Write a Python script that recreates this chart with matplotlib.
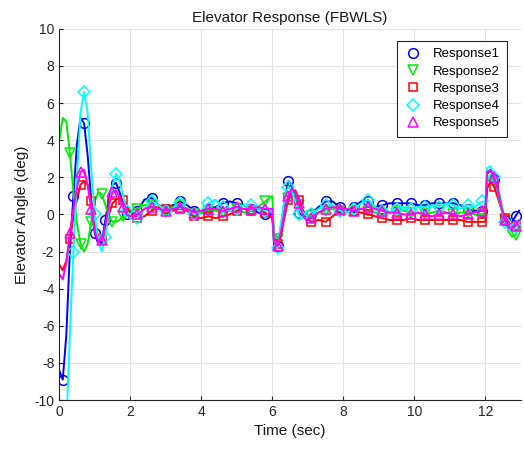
import matplotlib
matplotlib.use("Agg")
import matplotlib.pyplot as plt
from matplotlib.lines import Line2D
import numpy as np

plt.rcParams['font.family'] = ['Liberation Sans', 'DejaVu Sans']
plt.rcParams['axes.unicode_minus'] = False

# time samples (sec)
t = [0.0, 0.1, 0.2, 0.3, 0.4, 0.5, 0.6, 0.7, 0.8, 0.9,
     1.0, 1.1, 1.2, 1.3, 1.4, 1.5, 1.6, 1.7, 1.8, 1.9,
     2.0, 2.2, 2.4, 2.6, 2.8, 3.0, 3.2, 3.4, 3.6, 3.8,
     4.0, 4.2, 4.4, 4.6, 4.8, 5.0, 5.2, 5.4, 5.6, 5.8,
     6.0, 6.05, 6.15, 6.25, 6.35, 6.45, 6.55, 6.65, 6.75, 6.85,
     6.95, 7.1, 7.3, 7.5, 7.7, 7.9, 8.1, 8.3, 8.5, 8.7,
     8.9, 9.1, 9.3, 9.5, 9.7, 9.9, 10.1, 10.3, 10.5, 10.7,
     10.9, 11.1, 11.3, 11.5, 11.7, 11.9, 12.0, 12.05, 12.15, 12.25,
     12.35, 12.45, 12.55, 12.65, 12.75, 12.85, 12.95]

resp1 = [-8.4, -8.9, -6.5, -2.0, 1.0, 3.8, 5.2, 4.9, 3.2, 0.8,
         -1.0, -1.6, -1.5, -0.3, 0.9, 1.6, 1.7, 1.2, 0.5, 0.0,
         -0.2, 0.2, 0.8, 0.9, 0.5, 0.3, 0.5, 0.7, 0.5, 0.2,
         0.1, 0.3, 0.4, 0.6, 0.7, 0.6, 0.5, 0.3, 0.1, 0.0,
         0.0, -1.6, -1.7, -0.6, 0.8, 1.8, 1.6, 0.9, 0.1, -0.1,
         -0.2, 0.0, 0.4, 0.7, 0.7, 0.4, 0.2, 0.4, 0.7, 0.7,
         0.4, 0.5, 0.6, 0.6, 0.6, 0.6, 0.5, 0.5, 0.6, 0.6,
         0.6, 0.6, 0.5, 0.3, 0.2, 0.2, 0.2, 2.2, 2.4, 1.9,
         1.1, 0.3, -0.3, -0.5, -0.4, -0.1, 0.2]

resp2 = [4.0, 5.2, 5.0, 3.3, 1.2, -0.5, -1.6, -2.0, -1.6, -0.4,
         0.7, 1.2, 1.1, 0.5, -0.1, -0.4, -0.4, -0.3, -0.1, 0.1,
         0.2, 0.3, 0.5, 0.5, 0.3, 0.2, 0.4, 0.5, 0.3, 0.0,
         0.1, 0.2, 0.2, 0.1, 0.2, 0.3, 0.1, 0.2, 0.4, 0.7,
         1.0, -1.0, -1.3, -0.7, 0.2, 0.9, 1.2, 1.0, 0.5, 0.1,
         -0.1, -0.1, 0.1, 0.2, 0.3, 0.2, 0.1, 0.2, 0.3, 0.2,
         0.1, 0.0, 0.1, 0.2, 0.2, 0.1, 0.1, 0.0, 0.1, 0.2,
         0.1, 0.0, 0.1, 0.1, 0.0, 0.0, 0.1, 1.8, 2.0, 1.7,
         1.5, 0.6, -0.3, -0.9, -1.2, -1.1, -0.6]

resp3 = [-2.7, -3.0, -2.5, -1.3, -0.2, 0.8, 1.6, 1.8, 1.6, 0.7,
         -0.4, -1.2, -1.4, -0.9, 0.0, 0.6, 0.8, 0.9, 0.8, 0.5,
         0.1, -0.2, -0.1, 0.2, 0.4, 0.3, 0.2, 0.3, 0.2, -0.1,
         -0.2, -0.1, -0.2, -0.1, 0.0, 0.2, 0.3, 0.2, 0.3, 0.1,
         -0.2, -1.3, -1.6, -1.1, -0.1, 0.8, 1.2, 1.3, 0.8, 0.2,
         -0.2, -0.4, -0.3, -0.4, -0.1, 0.2, 0.3, 0.2, 0.1, 0.0,
         -0.1, -0.2, -0.3, -0.3, -0.3, -0.2, -0.3, -0.3, -0.3, -0.3,
         -0.3, -0.3, -0.3, -0.4, -0.4, -0.4, -0.4, 1.4, 1.8, 1.5,
         0.9, 0.3, -0.2, -0.6, -0.7, -0.6, -0.4]

resp4 = [-16.0, -14.0, -11.4, -6.5, -2.0, 2.0, 5.5, 6.6, 5.5, 2.5,
         0.0, -1.5, -2.0, -1.2, 0.3, 1.6, 2.2, 1.8, 1.0, 0.2,
         -0.2, -0.2, 0.3, 0.7, 0.5, 0.2, 0.3, 0.6, 0.3, 0.0,
         0.2, 0.6, 0.8, 0.4, 0.2, 0.3, 0.5, 0.5, 0.3, 0.2,
         0.3, -1.4, -1.8, -0.4, 0.9, 1.5, 1.3, 0.7, 0.0, -0.2,
         -0.2, 0.0, 0.3, 0.5, 0.5, 0.2, 0.1, 0.3, 0.6, 0.8,
         0.4, 0.2, 0.1, 0.3, 0.4, 0.3, 0.4, 0.4, 0.5, 0.4,
         0.6, 0.5, 0.3, 0.5, 0.4, 0.7, 0.6, 2.5, 2.6, 2.0,
         1.2, 0.3, -0.4, -0.8, -0.9, -0.7, -0.4]

resp5 = [-3.2, -3.5, -2.6, -1.0, 0.3, 1.4, 2.3, 2.4, 1.6, 0.3,
         -0.9, -1.5, -1.4, -0.6, 0.5, 1.2, 1.3, 0.9, 0.4, 0.0,
         -0.1, 0.0, 0.3, 0.4, 0.3, 0.2, 0.3, 0.4, 0.3, 0.1,
         0.2, 0.3, 0.3, 0.2, 0.3, 0.4, 0.3, 0.3, 0.4, 0.3,
         0.3, -1.5, -1.7, -0.9, 0.2, 1.0, 1.4, 1.2, 0.6, 0.0,
         -0.3, -0.2, 0.1, 0.3, 0.4, 0.3, 0.3, 0.2, 0.3, 0.4,
         0.3, 0.2, 0.1, 0.1, 0.0, 0.0, 0.1, 0.0, -0.1, 0.0,
         0.1, 0.0, -0.1, 0.0, 0.1, 0.2, 0.2, 2.3, 2.4, 2.0,
         1.3, 0.4, -0.3, -0.7, -0.8, -0.6, -0.3]

names = ['Response1', 'Response2', 'Response3', 'Response4', 'Response5']
series = [resp1, resp2, resp3, resp4, resp5]
colors = ['#0000ff', '#00ee00', '#ff0000', '#00ffff', '#ff00ff']
markers = ['o', 'v', 's', 'D', '^']
msizes = [7, 7, 6, 6, 7]
offsets = [1, 3, 3, 4, 3]


# picks marker positions roughly 0.3 s apart
def mark_idx(tt, start):
    idx = [start]
    for i in range(start + 1, len(tt)):
        if tt[i] - tt[idx[-1]] >= 0.28:
            idx.append(i)
    return idx


fig = plt.figure(figsize=(5.24, 4.5), dpi=100)
ax = fig.add_axes([0.113, 0.111, 0.881, 0.825])

handles = []
for k in range(5):
    ax.plot(t, series[k], color=colors[k], lw=1.4, marker=markers[k],
            markersize=msizes[k], markerfacecolor='none', markeredgewidth=1.1,
            markevery=mark_idx(t, offsets[k]))
    handles.append(Line2D([], [], color=colors[k], linestyle='none', marker=markers[k],
                          markersize=msizes[k], markerfacecolor='none', markeredgewidth=1.1))

ax.set_xlim(0, 13)
ax.set_ylim(-10, 10)
ax.set_xticks(np.arange(0, 13, 2))
ax.set_yticks(np.arange(-10, 11, 2))
ax.grid(True, color='#e3e3e3', lw=0.8)
ax.set_axisbelow(True)
ax.tick_params(direction='in', labelsize=10, colors='#262626', length=3)
for s in ['top', 'right']:
    ax.spines[s].set_visible(False)
for s in ['left', 'bottom']:
    ax.spines[s].set_color('#262626')
    ax.spines[s].set_linewidth(0.8)

ax.set_title('Elevator Response (FBWLS)', fontsize=11, color='#1a1a1a', pad=5)
ax.set_xlabel('Time (sec)', fontsize=11, color='#1a1a1a')
ax.set_ylabel('Elevator Angle (deg)', fontsize=11, color='#1a1a1a')

leg = ax.legend(handles, names, loc='upper right', bbox_to_anchor=(0.985, 0.985),
                fontsize=9.5, fancybox=False, edgecolor='#262626', framealpha=1,
                handlelength=1.4, handletextpad=0.8, borderpad=0.55, labelspacing=0.38)
leg.get_frame().set_linewidth(0.8)

fig.savefig('out.png', dpi=100)
